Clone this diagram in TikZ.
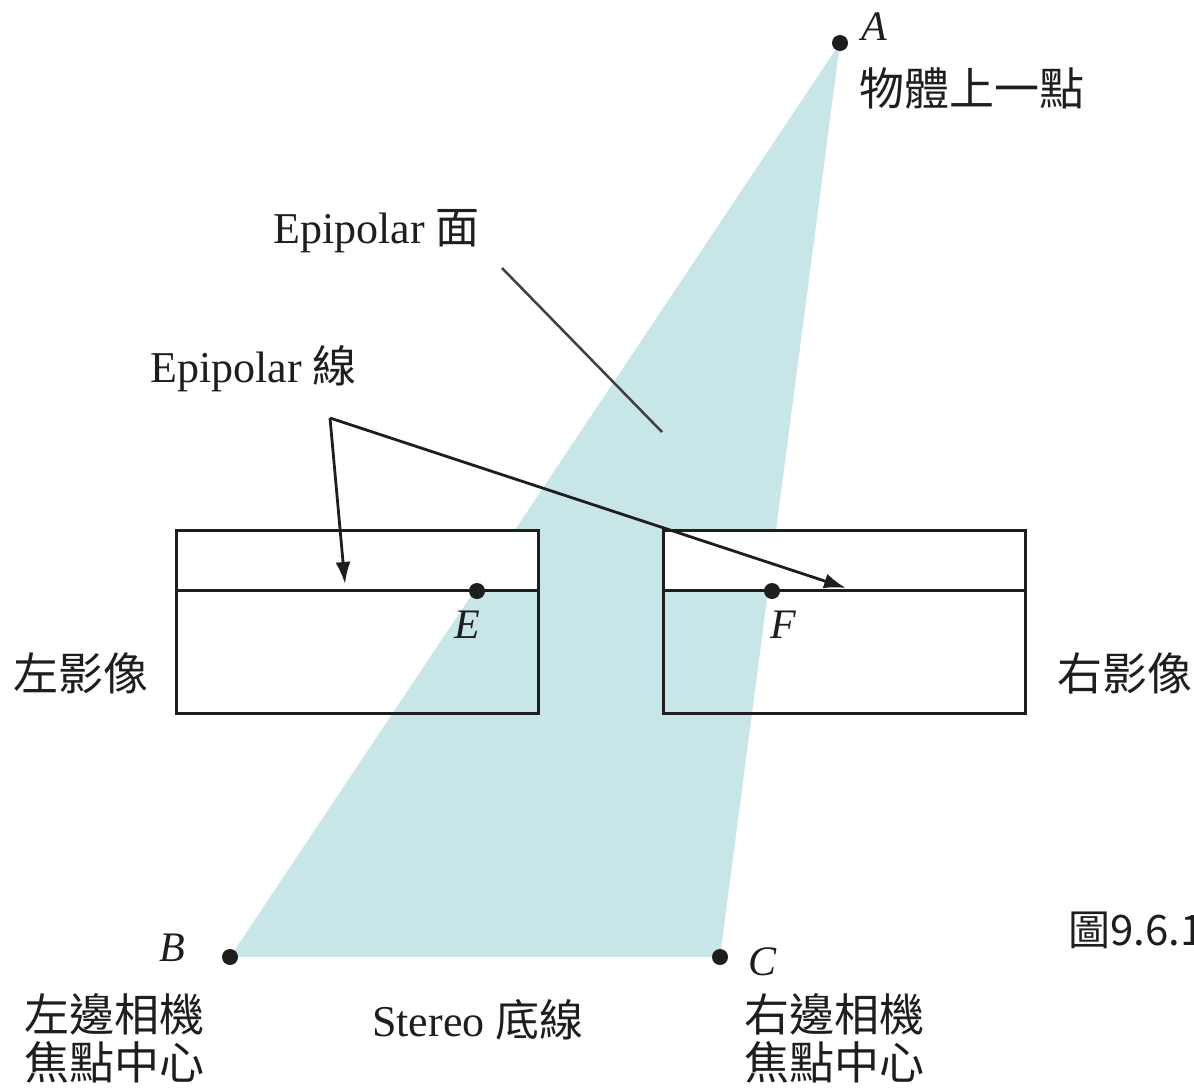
\documentclass[tikz,border=0pt]{standalone}
\usepackage{fontspec}
\setmainfont{Liberation Serif}
\newfontfamily\cjk{Noto Sans CJK TC}
\usetikzlibrary{arrows.meta}
\definecolor{plane}{RGB}{200,229,232}
\definecolor{ink}{RGB}{30,30,30}
\begin{document}
\begin{tikzpicture}[x=1pt,y=-1pt,
  lbl/.style={inner sep=0pt, text=ink, font=\fontsize{44}{48}\selectfont},
  cj/.style={inner sep=0pt, text=ink, font=\cjk\fontsize{45}{48}\selectfont, align=left},
  it/.style={inner sep=0pt, text=ink, font=\fontsize{42}{48}\selectfont\itshape},
  ln/.style={line width=3pt, draw=ink},
  thinln/.style={line width=2.5pt, draw=ink!85},
  arr/.style={line width=2.8pt, draw=ink, -{Latex[length=22pt,width=15pt]}},
  dotn/.style={circle, fill=ink, inner sep=0pt, minimum size=16pt}]
\useasboundingbox (0,0) rectangle (1194,1087);
\clip (0,0) rectangle (1194,1087);
% points
\coordinate (A) at (840,43);
\coordinate (B) at (230,957);
\coordinate (C) at (720,957);
\coordinate (E) at (477,591);
\coordinate (F) at (772,591);
% epipolar plane
\fill[plane] (A) -- (B) -- (C) -- cycle;
% image planes
\fill[white] (176,530) rectangle (538,590);
\draw[ln] (176,530) rectangle (538,713);
\draw[ln] (176,590) -- (538,590);
\fill[white] (663,530) rectangle (1025,590);
\draw[ln] (663,530) rectangle (1025,713);
\draw[ln] (663,590) -- (1025,590);
% leader of plane label
\coordinate (pl1) at (502,268);
\coordinate (pl2) at (662,432);
\draw[thinln] (pl1) -- (pl2);
% epipolar line arrows
\coordinate (V) at (330,418);
\coordinate (Et) at (345,584);
\coordinate (Ft) at (846,588);
\draw[arr] (V) -- (Et);
\draw[arr] (V) -- (Ft);
% dots
\node[dotn] (dA) at (A) {};
\node[dotn] (dB) at (B) {};
\node[dotn] (dC) at (C) {};
\node[dotn] (dE) at (E) {};
\node[dotn] (dF) at (F) {};
% point labels
\node[it] (lA) at (874,27) {A};
\node[it] (lB) at (172,948) {B};
\node[it] (lC) at (762,962) {C};
\node[it] (lE) at (467,625) {E};
\node[it] (lF) at (783,625) {F};
% texts
\node[cj, anchor=west] (tA) at (859,88) {物體上一點};
\node[lbl, anchor=base west] (tPlane) at (273,243) {Epipolar {\cjk 面}};
\node[lbl, anchor=base west] (tLine) at (150,382) {Epipolar {\cjk 線}};
\node[cj, anchor=west] (tL) at (13,673) {左影像};
\node[cj, anchor=west] (tR) at (1057,673) {右影像};
\node[cj, anchor=north west] (tB) at (24,993) {左邊相機\\焦點中心};
\node[cj, anchor=north west] (tC) at (744,993) {右邊相機\\焦點中心};
\node[lbl, anchor=base west] (tS) at (372,1036) {Stereo {\cjk 底線}};
\node[cj, anchor=west, font=\cjk\fontsize{42}{48}\selectfont] (tFig) at (1068,930) {圖9.6.1};
\end{tikzpicture}
\end{document}
